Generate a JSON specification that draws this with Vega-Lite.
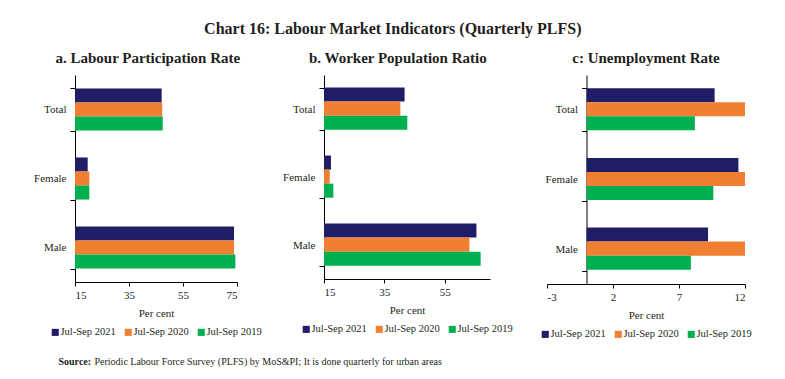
{
  "$schema": "https://vega.github.io/schema/vega-lite/v6.json",
  "padding": {"left": 33, "top": 21, "right": 5, "bottom": 5},
  "background": "white",
  "title": {"text": "Chart 16: Labour Market Indicators (Quarterly PLFS)", "fontSize": 16, "fontWeight": "bold", "font": "Liberation Serif", "color": "#231f20", "anchor": "middle", "frame": "bounds", "offset": 14},
  "datasets": {
    "plfs": [
      {"panel": "a", "cat": "Total", "period": "Jul-Sep 2021", "value": 47.1},
      {"panel": "a", "cat": "Total", "period": "Jul-Sep 2020", "value": 47.3},
      {"panel": "a", "cat": "Total", "period": "Jul-Sep 2019", "value": 47.5},
      {"panel": "a", "cat": "Female", "period": "Jul-Sep 2021", "value": 19.7},
      {"panel": "a", "cat": "Female", "period": "Jul-Sep 2020", "value": 20.3},
      {"panel": "a", "cat": "Female", "period": "Jul-Sep 2019", "value": 20.3},
      {"panel": "a", "cat": "Male", "period": "Jul-Sep 2021", "value": 73.9},
      {"panel": "a", "cat": "Male", "period": "Jul-Sep 2020", "value": 73.9},
      {"panel": "a", "cat": "Male", "period": "Jul-Sep 2019", "value": 74.4},
      {"panel": "b", "cat": "Total", "period": "Jul-Sep 2021", "value": 41.7},
      {"panel": "b", "cat": "Total", "period": "Jul-Sep 2020", "value": 40.3},
      {"panel": "b", "cat": "Total", "period": "Jul-Sep 2019", "value": 42.6},
      {"panel": "b", "cat": "Female", "period": "Jul-Sep 2021", "value": 17.3},
      {"panel": "b", "cat": "Female", "period": "Jul-Sep 2020", "value": 16.9},
      {"panel": "b", "cat": "Female", "period": "Jul-Sep 2019", "value": 18.1},
      {"panel": "b", "cat": "Male", "period": "Jul-Sep 2021", "value": 65.5},
      {"panel": "b", "cat": "Male", "period": "Jul-Sep 2020", "value": 63.2},
      {"panel": "b", "cat": "Male", "period": "Jul-Sep 2019", "value": 66.9},
      {"panel": "c", "cat": "Total", "period": "Jul-Sep 2021", "value": 9.7},
      {"panel": "c", "cat": "Total", "period": "Jul-Sep 2020", "value": 13.2},
      {"panel": "c", "cat": "Total", "period": "Jul-Sep 2019", "value": 8.2},
      {"panel": "c", "cat": "Female", "period": "Jul-Sep 2021", "value": 11.5},
      {"panel": "c", "cat": "Female", "period": "Jul-Sep 2020", "value": 15.8},
      {"panel": "c", "cat": "Female", "period": "Jul-Sep 2019", "value": 9.6},
      {"panel": "c", "cat": "Male", "period": "Jul-Sep 2021", "value": 9.2},
      {"panel": "c", "cat": "Male", "period": "Jul-Sep 2020", "value": 12.6},
      {"panel": "c", "cat": "Male", "period": "Jul-Sep 2019", "value": 7.9}
    ],
    "source": [
      {"label": "Source:", "text": "Periodic Labour Force Survey (PLFS) by MoS&PI; It is done quarterly for urban areas"}
    ]
  },
  "spacing": 17,
  "vconcat": [
    {
      "spacing": 20,
      "resolve": {"legend": {"color": "independent"}, "scale": {"x": "independent", "y": "independent"}},
      "hconcat": [
        {
          "width": 162, "height": 207,
          "title": {"text": "a. Labour Participation Rate"},
          "data": {"name": "plfs"},
          "transform": [{"filter": "datum.panel == 'a'"}],
          "mark": {"type": "bar", "clip": true},
          "encoding": {
            "y": {"field": "cat", "type": "nominal", "sort": ["Total", "Female", "Male"], "scale": {"paddingInner": 0.39, "paddingOuter": 0.195}, "axis": {"title": null, "tickBand": "extent"}},
            "yOffset": {"field": "period", "type": "nominal", "sort": ["Jul-Sep 2021", "Jul-Sep 2020", "Jul-Sep 2019"], "scale": {"paddingInner": 0, "paddingOuter": 0}},
            "x": {"field": "value", "type": "quantitative", "scale": {"domain": [15, 75], "nice": false, "zero": false}, "axis": {"values": [15, 35, 55, 75], "title": "Per cent"}},
            "x2": {"datum": 15},
            "color": {"field": "period", "type": "nominal", "sort": ["Jul-Sep 2021", "Jul-Sep 2020", "Jul-Sep 2019"], "scale": {"domain": ["Jul-Sep 2021", "Jul-Sep 2020", "Jul-Sep 2019"], "range": ["#1f1d66", "#f07f32", "#00b050"]}, "legend": {"title": null}}
          }
        },
        {
          "spacing": 27,
          "resolve": {"legend": {"color": "independent"}, "scale": {"x": "independent", "y": "independent"}},
          "hconcat": [
            {
              "width": 166, "height": 204,
              "title": {"text": "b. Worker Population Ratio"},
              "data": {"name": "plfs"},
              "transform": [{"filter": "datum.panel == 'b'"}],
              "mark": {"type": "bar", "clip": true},
              "encoding": {
                "y": {"field": "cat", "type": "nominal", "sort": ["Total", "Female", "Male"], "scale": {"paddingInner": 0.37, "paddingOuter": 0.185}, "axis": {"title": null, "tickBand": "extent"}},
                "yOffset": {"field": "period", "type": "nominal", "sort": ["Jul-Sep 2021", "Jul-Sep 2020", "Jul-Sep 2019"], "scale": {"paddingInner": 0, "paddingOuter": 0}},
                "x": {"field": "value", "type": "quantitative", "scale": {"domain": [15, 70], "nice": false, "zero": false}, "axis": {"values": [15, 35, 55], "title": "Per cent"}},
                "x2": {"datum": 15},
                "color": {"field": "period", "type": "nominal", "sort": ["Jul-Sep 2021", "Jul-Sep 2020", "Jul-Sep 2019"], "scale": {"domain": ["Jul-Sep 2021", "Jul-Sep 2020", "Jul-Sep 2019"], "range": ["#1f1d66", "#f07f32", "#00b050"]}, "legend": {"title": null}}
              }
            },
            {
              "width": 198, "height": 209,
              "title": {"text": "c: Unemployment Rate"},
              "data": {"name": "plfs"},
              "transform": [{"filter": "datum.panel == 'c'"}],
              "mark": {"type": "bar", "clip": true},
              "encoding": {
                "y": {"field": "cat", "type": "nominal", "sort": ["Total", "Female", "Male"], "scale": {"paddingInner": 0.38, "paddingOuter": 0.19}, "axis": {"title": null, "tickBand": "extent", "offset": -39.5}},
                "yOffset": {"field": "period", "type": "nominal", "sort": ["Jul-Sep 2021", "Jul-Sep 2020", "Jul-Sep 2019"], "scale": {"paddingInner": 0, "paddingOuter": 0}},
                "x": {"field": "value", "type": "quantitative", "scale": {"domain": [-3, 12], "nice": false, "zero": false}, "axis": {"values": [-3, 2, 7, 12], "title": "Per cent", "labelExpr": "'' + datum.value"}},
                "x2": {"datum": 0},
                "color": {"field": "period", "type": "nominal", "sort": ["Jul-Sep 2021", "Jul-Sep 2020", "Jul-Sep 2019"], "scale": {"domain": ["Jul-Sep 2021", "Jul-Sep 2020", "Jul-Sep 2019"], "range": ["#1f1d66", "#f07f32", "#00b050"]}, "legend": {"title": null}}
              }
            }
          ]
        }
      ]
    },
    {
      "width": 1, "height": 10,
      "data": {"name": "source"},
      "layer": [
        {"mark": {"type": "text", "align": "left", "baseline": "middle", "fontSize": 10, "fontWeight": "bold", "font": "Liberation Serif", "color": "#231f20", "dx": -17}, "encoding": {"text": {"field": "label"}}},
        {"mark": {"type": "text", "align": "left", "baseline": "middle", "fontSize": 10, "font": "Liberation Serif", "color": "#231f20", "dx": 19}, "encoding": {"text": {"field": "text"}}}
      ]
    }
  ],
  "config": {
    "font": "Liberation Serif",
    "view": {"stroke": null},
    "title": {"font": "Liberation Serif", "fontSize": 15, "fontWeight": "bold", "color": "#231f20", "anchor": "middle", "frame": "bounds", "offset": 3},
    "axis": {"grid": false, "domainColor": "#000000", "tickColor": "#000000", "labelColor": "#231f20", "titleColor": "#231f20", "labelFont": "Liberation Serif", "titleFont": "Liberation Serif", "labelFontSize": 11, "titleFontSize": 11, "titleFontWeight": "normal", "tickSize": 4, "labelPadding": 3, "titlePadding": 7},
    "axisY": {"tickSize": 5, "labelPadding": 4},
    "legend": {"orient": "bottom", "direction": "horizontal", "symbolType": "square", "symbolSize": 50, "symbolStrokeWidth": 0, "labelFont": "Liberation Serif", "labelFontSize": 10.5, "labelColor": "#231f20", "labelOffset": 0, "columnPadding": 7, "padding": 0, "offset": 9, "layout": {"bottom": {"anchor": "middle"}}}
  }
}
